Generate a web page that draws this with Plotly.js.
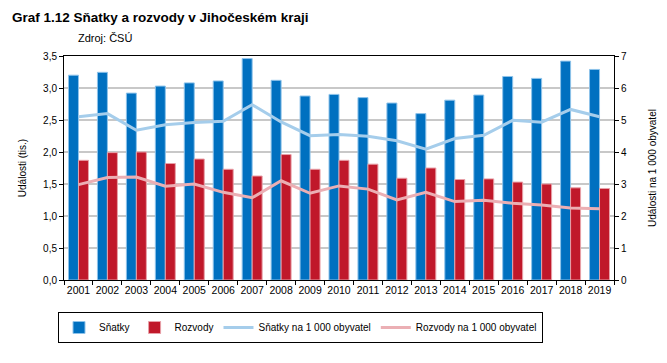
<!DOCTYPE html>
<html><head><meta charset="utf-8">
<script src="https://cdn.plot.ly/plotly-3.0.1.min.js"></script>
<style>body{margin:0;background:#fff}#c{width:667px;height:363px}</style>
</head><body><div id="c"></div>
<script>
const years = ['2001','2002','2003','2004','2005','2006','2007','2008','2009','2010','2011','2012','2013','2014','2015','2016','2017','2018','2019'];
const snatky = [3.20,3.245,2.92,3.03,3.08,3.11,3.46,3.12,2.875,2.90,2.85,2.765,2.60,2.81,2.89,3.18,3.15,3.42,3.29];
const rozvody = [1.87,1.99,2.00,1.82,1.89,1.73,1.625,1.96,1.73,1.87,1.81,1.59,1.75,1.57,1.58,1.53,1.50,1.44,1.43];
const snatkyNa1000 = [5.10,5.20,4.68,4.85,4.92,4.96,5.48,4.94,4.51,4.55,4.49,4.35,4.09,4.42,4.52,4.99,4.93,5.33,5.10];
const rozvodyNa1000 = [2.98,3.20,3.22,2.93,3.00,2.74,2.57,3.10,2.71,2.94,2.84,2.50,2.74,2.45,2.49,2.40,2.34,2.25,2.23];
const names = ['Sňatky','Rozvody','Sňatky na 1 000 obyvatel','Rozvody na 1 000 obyvatel'];

const font = 'Arial, "Liberation Sans", sans-serif';
const traces = [
  {type:'bar', x:years, y:snatky, name:names[0], marker:{color:'#0070C0', line:{color:'#8EC3EA', width:1}}},
  {type:'bar', x:years, y:rozvody, name:names[1], marker:{color:'#C0182A', line:{color:'#E8A0A8', width:1}}},
  {type:'scatter', mode:'lines', x:years, y:snatkyNa1000, name:names[2], yaxis:'y2', line:{color:'#A5CDEB', width:3}},
  {type:'scatter', mode:'lines', x:years, y:rozvodyNa1000, name:names[3], yaxis:'y2', line:{color:'#EBAFB4', width:3}}
];
const layout = {
  width:667, height:363,
  margin:{l:64, r:53, t:56, b:83},
  paper_bgcolor:'#fff', plot_bgcolor:'#fff',
  separators:', ',
  font:{family:font, size:10, color:'#000'},
  barmode:'group', bargap:0.31, bargroupgap:0,
  title:{text:'<b>Graf 1.12 Sňatky a rozvody v Jihočeském kraji</b>', xref:'container', yref:'container', x:12/667, xanchor:'left', y:1-17/363, yanchor:'middle', font:{family:font, size:13.5, color:'#000'}},
  annotations:[{text:'Zdroj: ČSÚ', xref:'paper', yref:'paper', x:(76-64)/550, xanchor:'left', y:1+(56-38)/224, yanchor:'middle', showarrow:false, font:{family:font, size:11, color:'#000'}}],
  xaxis:{type:'category', showline:true, linecolor:'#000', linewidth:1, mirror:true, ticks:'outside', tickson:'boundaries', ticklen:4, tickcolor:'#000', showgrid:false, tickangle:0, tickfont:{size:10.5}},
  yaxis:{range:[0,3.5], dtick:0.5, tickformat:'.1f', showline:true, linecolor:'#000', linewidth:1, ticks:'outside', ticklen:4, tickcolor:'#000', gridcolor:'#C8C8C8', gridwidth:1.5, zeroline:false, tickfont:{size:10},
    title:{text:'Události (tis.)', font:{size:10}, standoff:14}},
  yaxis2:{range:[0,7], dtick:1, overlaying:'y', side:'right', showline:true, linecolor:'#000', linewidth:1, ticks:'outside', ticklen:4, tickcolor:'#000', showgrid:false, zeroline:false, tickfont:{size:10},
    title:{text:'Události na 1 000 obyvatel', font:{size:10}, standoff:22}},
  showlegend:true,
  legend:{orientation:'h', xref:'container', yref:'container', x:58/667, y:1-312/363, xanchor:'left', yanchor:'top', bordercolor:'#000', borderwidth:1, font:{size:10}, traceorder:'normal'}
};
Plotly.newPlot('c', traces, layout, {displayModeBar:false, staticPlot:true});
</script></body></html>
